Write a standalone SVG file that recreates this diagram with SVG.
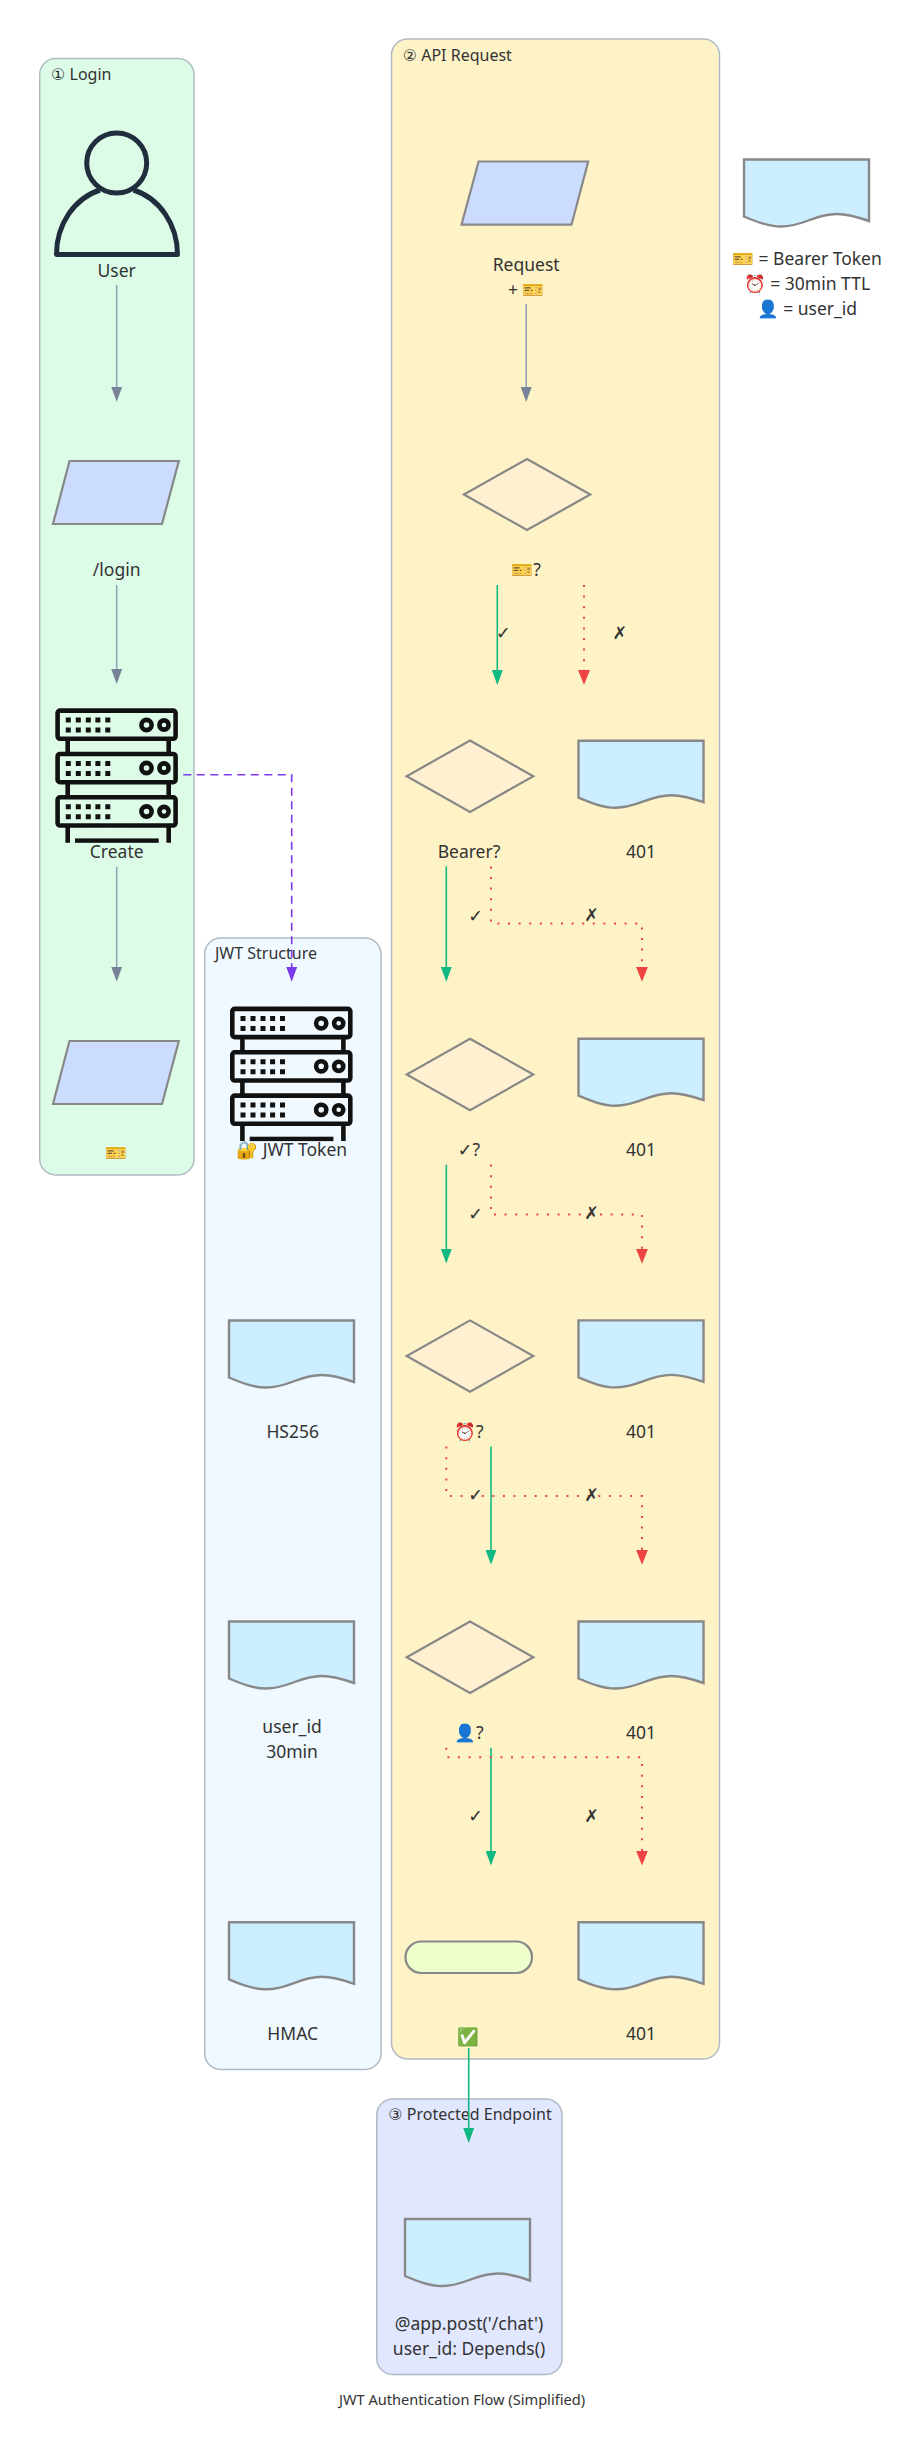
<svg xmlns="http://www.w3.org/2000/svg" width="924" height="2446" viewBox="0 0 924 2446">
<style>
text{font-family:"Noto Sans","Noto Color Emoji","DejaVu Sans",sans-serif;font-size:17.5px;fill:#333;text-anchor:middle;dominant-baseline:central;transform:translateY(-.8px)}
.gt{font-size:16px;transform:none}
.cl{fill:#dcfce7;stroke:#b0bac5;stroke-width:1.5}
.sh{stroke:#888;stroke-width:2.2}
.para{fill:#ccdcff}
.dia{fill:#fef0d0}
.doc{fill:#cceeff;stroke:#888;stroke-width:2.4;stroke-linejoin:miter}
.e{fill:none;stroke-width:1.6}
.g{stroke:#94a3b8}
.ok{stroke:#10b981}
.no{stroke:#ef4444;stroke-dasharray:2 8.6;stroke-width:2}
.pu{stroke:#7c3aed;stroke-dasharray:8 5.5}
.ink{fill:none;stroke:#111;stroke-width:4.6}
.inkf{fill:#111}
</style>
<defs>
<marker id="mg" markerUnits="userSpaceOnUse" markerWidth="15" markerHeight="11" refX="12" refY="5.5" orient="auto" viewBox="0 0 15 11"><path d="M0,0L15,5.5L0,11Z" fill="#778296"/></marker>
<marker id="mo" markerUnits="userSpaceOnUse" markerWidth="15" markerHeight="11" refX="12" refY="5.5" orient="auto" viewBox="0 0 15 11"><path d="M0,0L15,5.5L0,11Z" fill="#10b981"/></marker>
<marker id="mn" markerUnits="userSpaceOnUse" markerWidth="15" markerHeight="12" refX="12" refY="6" orient="auto" viewBox="0 0 15 12"><path d="M0,0L15,6L0,12Z" fill="#ef4444"/></marker>
<marker id="mp" markerUnits="userSpaceOnUse" markerWidth="15" markerHeight="11" refX="12" refY="5.5" orient="auto" viewBox="0 0 15 11"><path d="M0,0L15,5.5L0,11Z" fill="#7c3aed"/></marker>
<path id="doc" class="doc" d="M0,0H125V61.5C115,58 105,54.5 93,54.5C70,54.5 60,67 37,67C24,67 12,62 0,57Z"/>
<pattern id="hatch" width="9" height="9" patternUnits="userSpaceOnUse"><path d="M0,0L9,9M9,0L0,9" stroke="#fff" stroke-width="1" opacity=".28"/></pattern>
<g id="server">
<rect x="53" y="705" width="129" height="138" fill="url(#hatch)"/>
<g class="ink"><rect x="57.6" y="710.6" width="118" height="28.2" rx="2.5"/><rect x="57.6" y="754" width="118" height="28.2" rx="2.5"/><rect x="57.6" y="797.3" width="118" height="28.2" rx="2.5"/>
<path d="M67.7,739V754M168.7,739V754M67.7,782V797M168.7,782V797M67.7,826V842.7M168.7,826V842.7"/>
<circle cx="146.5" cy="725" r="5.1"/><circle cx="164" cy="725" r="4.6"/><circle cx="146.5" cy="768" r="5.1"/><circle cx="164" cy="768" r="4.6"/><circle cx="146.5" cy="811.5" r="5.1"/><circle cx="164" cy="811.5" r="4.6"/></g>
<rect class="inkf" x="75" y="838.4" width="83.7" height="4.4"/>
<g class="inkf"><path d="M65.8,717.6h5v5h-5zM75.8,717.6h5v5h-5zM85.8,717.6h5v5h-5zM95.4,717.6h5v5h-5zM105.3,717.6h5v5h-5zM65.8,727.6h5v5h-5zM75.8,727.6h5v5h-5zM85.8,727.6h5v5h-5zM95.4,727.6h5v5h-5zM105.3,727.6h5v5h-5z"/>
<path d="M65.8,760.9h5v5h-5zM75.8,760.9h5v5h-5zM85.8,760.9h5v5h-5zM95.4,760.9h5v5h-5zM105.3,760.9h5v5h-5zM65.8,770.9h5v5h-5zM75.8,770.9h5v5h-5zM85.8,770.9h5v5h-5zM95.4,770.9h5v5h-5zM105.3,770.9h5v5h-5z"/>
<path d="M65.8,804.2h5v5h-5zM75.8,804.2h5v5h-5zM85.8,804.2h5v5h-5zM95.4,804.2h5v5h-5zM105.3,804.2h5v5h-5zM65.8,814.2h5v5h-5zM75.8,814.2h5v5h-5zM85.8,814.2h5v5h-5zM95.4,814.2h5v5h-5zM105.3,814.2h5v5h-5z"/></g>
</g>
</defs>
<rect width="924" height="2446" fill="#fff"/>

<g id="clusters">
<g id="cluster-login"><rect class="cl" x="39.7" y="58.5" width="154.3" height="1116.5" rx="16"/><text class="gt" style="text-anchor:start" x="51" y="74">① Login</text></g>
<g id="cluster-jwt"><rect class="cl" style="fill:#f0f9ff" x="204.7" y="938" width="176.3" height="1131.5" rx="16"/><text class="gt" style="text-anchor:start" x="215" y="953">JWT Structure</text></g>
<g id="cluster-api"><rect class="cl" style="fill:#fef3c7" x="391.5" y="39" width="328" height="2020" rx="16"/><text class="gt" style="text-anchor:start" x="402.7" y="54.5">② API Request</text></g>
<g id="cluster-protected"><rect class="cl" style="fill:#e0e7ff" x="376.8" y="2099" width="185.2" height="275.5" rx="16"/><text class="gt" x="470" y="2114">③ Protected Endpoint</text></g>
</g>

<g id="node-user"><circle cx="116.7" cy="163" r="30" fill="none" stroke="#1f2d3d" stroke-width="5"/><path d="M100,190A60.5,67 0 0 0 56.5,254.5H177.5A60.5,67 0 0 0 133.5,190" fill="none" stroke="#1f2d3d" stroke-width="5" stroke-linejoin="round"/><text x="116.7" y="270.7">User</text></g>
<g id="node-login"><polygon class="sh para" points="69.5,461 178.8,461 162,524 53,524"/><text x="116.7" y="570">/login</text></g>
<g id="node-create"><use href="#server"/><text x="116.7" y="851.7">Create</text></g>
<g id="node-token"><polygon class="sh para" points="69.5,1041 178.8,1041 162,1104 53,1104"/><text x="116.7" y="1152.7">🎫</text></g>

<g id="node-jwt"><use href="#server" transform="translate(174.7,298.3)"/><text x="291.7" y="1150">🔐 JWT Token</text></g>
<g id="node-hs256"><use href="#doc" x="229" y="1320.5"/><text x="292.7" y="1431.7">HS256</text></g>
<g id="node-payload"><use href="#doc" x="229" y="1621.5"/><text x="292" y="1727">user_id</text><text x="292" y="1752">30min</text></g>
<g id="node-hmac"><use href="#doc" x="229" y="1922.3"/><text x="292.7" y="2033.4">HMAC</text></g>

<g id="node-request"><polygon class="sh para" points="478.6,161.5 588.2,161.5 571.5,224.7 461.5,224.7"/><text x="526.2" y="264.7">Request</text><text x="526.2" y="289.6">+ 🎫</text></g>
<g id="node-check1"><polygon class="sh dia" points="527,459 590.3,494.5 527,530 463.9,494.5"/><text x="526.2" y="569.6">🎫?</text></g>
<g id="node-check2"><polygon class="sh dia" points="470,740.5 533.3,776.2 470,812 406.7,776.2"/><text x="469" y="851.4">Bearer?</text></g>
<g id="node-err1"><use href="#doc" x="578.5" y="740.7"/><text x="641" y="851.4">401</text></g>
<g id="node-check3"><polygon class="sh dia" points="470,1038.7 533.3,1074.5 470,1110.3 406.7,1074.5"/><text x="469" y="1150">✓?</text></g>
<g id="node-err2"><use href="#doc" x="578.5" y="1038.7"/><text x="641" y="1150">401</text></g>
<g id="node-check4"><polygon class="sh dia" points="470,1320.4 533.3,1356 470,1391.7 406.7,1356"/><text x="469" y="1432">⏰?</text></g>
<g id="node-err3"><use href="#doc" x="578.5" y="1320.4"/><text x="641" y="1432">401</text></g>
<g id="node-check5"><polygon class="sh dia" points="470,1621.5 533.3,1657.2 470,1693 406.7,1657.2"/><text x="469" y="1732.5">👤?</text></g>
<g id="node-err4"><use href="#doc" x="578.5" y="1621.5"/><text x="641" y="1732.5">401</text></g>
<g id="node-ok"><rect class="sh" x="405.5" y="1941.5" width="126.5" height="31.5" rx="15.7" fill="#eeffcc"/><text x="468.7" y="2037">✅</text></g>
<g id="node-err5"><use href="#doc" x="578.5" y="1922.3"/><text x="641" y="2033.4">401</text></g>

<g id="node-endpoint"><use href="#doc" x="405" y="2219"/><text x="469" y="2324">@app.post('/chat')</text><text x="469" y="2349">user_id: Depends()</text></g>

<g id="node-legend"><use href="#doc" x="744" y="159.5"/><text x="807" y="258.6">🎫 = Bearer Token</text><text x="807" y="284">⏰ = 30min TTL</text><text x="807" y="308.8">👤 = user_id</text></g>

<g id="connectors">
<path class="e g" marker-end="url(#mg)" d="M116.7,285V398.7"/>
<path class="e g" marker-end="url(#mg)" d="M116.7,585V681"/>
<path class="e g" marker-end="url(#mg)" d="M116.7,866.7V978.7"/>
<path class="e g" marker-end="url(#mg)" d="M526.2,304V399"/>
<path class="e pu" marker-end="url(#mp)" d="M183.3,774.7H291.7V978.7"/>
<path class="e ok" marker-end="url(#mo)" d="M497.3,585V682"/>
<path class="e no" marker-end="url(#mn)" d="M584,585V682"/>
<path class="e ok" marker-end="url(#mo)" d="M446.3,866.4V978.8"/>
<path class="e no" marker-end="url(#mn)" d="M491,866.4V923.6H642V978.8"/>
<path class="e ok" marker-end="url(#mo)" d="M446.3,1164.6V1260.6"/>
<path class="e no" marker-end="url(#mn)" d="M491,1164.6V1214.6H642V1260.8"/>
<path class="e ok" marker-end="url(#mo)" d="M491,1446.6V1561.8"/>
<path class="e no" marker-end="url(#mn)" d="M446.3,1446.6V1496H642V1561.8"/>
<path class="e ok" marker-end="url(#mo)" d="M491,1747.8V1862.6"/>
<path class="e no" marker-end="url(#mn)" d="M446.3,1747.8V1757.3H642V1862.6"/>
<path class="e ok" marker-end="url(#mo)" d="M468.7,2048V2140"/>
</g>
<g id="edge-labels">
<text x="503.4" y="633">✓</text><text x="619.9" y="633">✗</text>
<text x="475.7" y="915.4">✓</text><text x="591.7" y="915">✗</text>
<text x="475.7" y="1213.6">✓</text><text x="591.7" y="1213">✗</text>
<text x="475.7" y="1495">✓</text><text x="591.7" y="1495">✗</text>
<text x="475.7" y="1816">✓</text><text x="591.7" y="1816">✗</text>
</g>
<text id="title" x="462" y="2400" style="font-size:14.6px">JWT Authentication Flow (Simplified)</text>
</svg>
